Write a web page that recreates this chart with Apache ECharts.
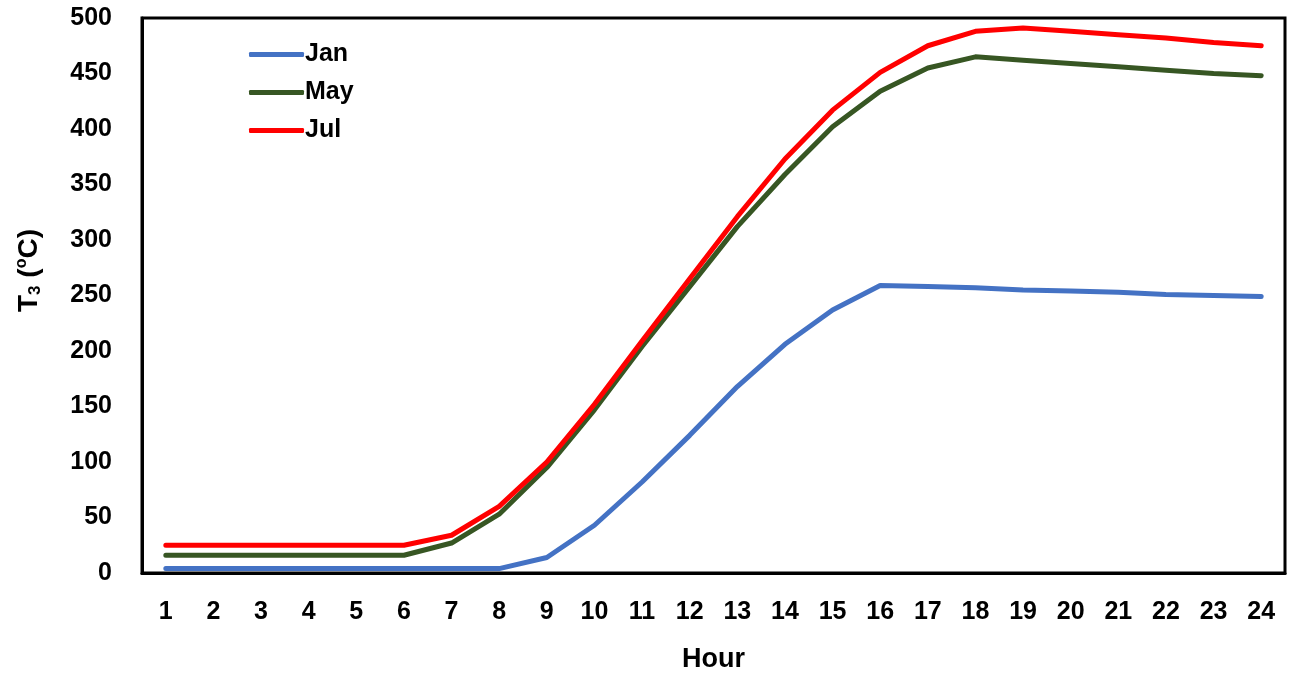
<!DOCTYPE html>
<html><head><meta charset="utf-8">
<script src="https://cdn.jsdelivr.net/npm/echarts@6/dist/echarts.min.js"></script>
<style>html,body{margin:0;padding:0;background:#fff}#c{width:1293px;height:674px}</style>
</head><body><div id="c"></div>
<script>
const hours = ['1','2','3','4','5','6','7','8','9','10','11','12','13','14','15','16','17','18','19','20','21','22','23','24'];
const jan = [4,4,4,4,4,4,4,4,14,43,82,124,168,206,237,259,258,257,255,254,253,251,250,249];
const may = [16,16,16,16,16,16,27,53,95,147,204,258,312,359,402,434,455,465,462,459,456,453,450,448];
const jul = [25,25,25,25,25,25,34,60,100,152,209,265,321,373,417,451,475,488,491,488,485,482,478,475];
const yTicks = [0,50,100,150,200,250,300,350,400,450,500];

const font = '"Liberation Sans", Arial, sans-serif';
const chart = echarts.init(document.getElementById('c'));
function mk(name, data, color){
  return {name, type:'line', data, symbol:'none', smooth:false,
    lineStyle:{color, width:5, cap:'round', join:'round'}, itemStyle:{color}};
}
chart.setOption({
  animation:false,
  backgroundColor:'#fff',
  grid:{left:142,right:8,top:18,bottom:101,containLabel:false,outerBoundsMode:'none',show:true,borderColor:'#000',borderWidth:3,backgroundColor:'transparent'},
  legend:{orient:'vertical',left:244,top:37,itemWidth:55,itemHeight:5,itemGap:13,
    icon:'roundRect',
    textStyle:{fontFamily:font,fontWeight:'bold',fontSize:25,color:'#000',padding:[0,0,0,-4]},
    data:['Jan','May','Jul']},
  xAxis:{type:'category',data:hours,boundaryGap:true,
    axisLine:{show:true,lineStyle:{color:'#000',width:3}},axisTick:{show:false},
    axisLabel:{fontFamily:font,fontWeight:'bold',fontSize:25,color:'#000',margin:27},
    name:'Hour',nameLocation:'middle',nameGap:73,
    nameTextStyle:{fontFamily:font,fontWeight:'bold',fontSize:27,color:'#000'}},
  yAxis:{type:'value',min:yTicks[0],max:yTicks[yTicks.length-1],interval:50,
    axisLine:{show:true,lineStyle:{color:'#000',width:3}},axisTick:{show:false},splitLine:{show:false},
    axisLabel:{fontFamily:font,fontWeight:'bold',fontSize:25,color:'#000',margin:30},
    name:'{a|T}{s|3}{a| (}{o|o}{a|C)}',nameLocation:'middle',nameGap:98,nameRotate:90,
    nameTextStyle:{padding:[0,0,0,50],rich:{
      a:{fontFamily:font,fontWeight:'bold',fontSize:28,color:'#000'},
      s:{fontFamily:font,fontWeight:'bold',fontSize:17,color:'#000',verticalAlign:'bottom',padding:[13,0,0,0]},
      o:{fontFamily:font,fontWeight:'bold',fontSize:16,color:'#000',verticalAlign:'top',padding:[0,0,11,0]}
    }}},
  series:[mk('Jan',jan,'#4472C4'),mk('May',may,'#375623'),mk('Jul',jul,'#FF0000')]
});
</script></body></html>
